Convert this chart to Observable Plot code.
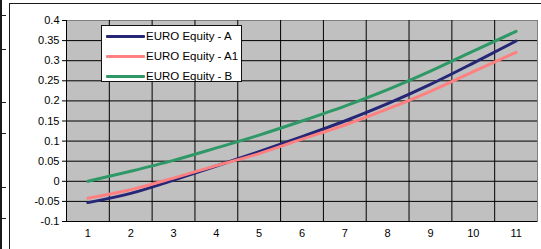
<!DOCTYPE html>
<html>
<head>
<meta charset="utf-8">
<script src="https://cdn.jsdelivr.net/npm/d3@7"></script>
<script src="https://cdn.jsdelivr.net/npm/@observablehq/plot@0.6"></script>
<style>
  html, body { margin: 0; padding: 0; background: #fff; }
  #wrap { position: relative; width: 541px; height: 249px; overflow: hidden; font-family: "Liberation Sans", Arial, sans-serif; }
  #wrap svg { position: absolute; left: 0; top: 0; }
  .deco { position: absolute; background: #1a1a1a; }
  #legend { position: absolute; left: 101px; top: 25px; width: 141px; height: 57px; background: #fff; border: 1px solid #111; box-sizing: border-box; }
  .row { position: absolute; left: 4px; height: 20px; display: flex; align-items: center; font-size: 11.5px; color: #000; white-space: nowrap; }
  .sw { width: 39px; height: 3px; margin-right: 1px; border-radius: 1px; }
</style>
</head>
<body>
<div id="wrap"></div>
<script>
// ---- data ----
const categories = [1, 2, 3, 4, 5, 6, 7, 8, 9, 10, 11];
const seriesA  = [-0.053, -0.030, 0.003, 0.038, 0.074, 0.111, 0.150, 0.193, 0.241, 0.294, 0.349];
const seriesA1 = [-0.042, -0.021, 0.008, 0.039, 0.069, 0.105, 0.140, 0.180, 0.224, 0.273, 0.321];
const seriesB  = [0.000, 0.025, 0.052, 0.083, 0.115, 0.150, 0.187, 0.228, 0.274, 0.324, 0.373];
const seriesNames = ["EURO Equity - A", "EURO Equity - A1", "EURO Equity - B"];
const yTicks = [-0.1, -0.05, 0, 0.05, 0.1, 0.15, 0.2, 0.25, 0.3, 0.35, 0.4];
const yTickLabels = ["-0.1", "-0.05", "0", "0.05", "0.1", "0.15", "0.2", "0.25", "0.3", "0.35", "0.4"];

// ---- styles ----
const seriesColors = ["#262676", "#ff8080", "#2e9966"];

const seriesValues = [seriesA, seriesA1, seriesB];
const rows = [];
seriesNames.forEach((name, s) => {
  categories.forEach((c, i) => rows.push({series: name, x: c, y: seriesValues[s][i]}));
});
const boundaries = categories.slice(0, -1).map(c => c + 0.5);
const innerY = yTicks.slice(1, -1);

const chart = Plot.plot({
  width: 541,
  height: 249,
  marginLeft: 66,
  marginRight: 4,
  marginTop: 20,
  marginBottom: 28,
  style: {background: "transparent", fontFamily: "Liberation Sans, Arial, sans-serif", fontSize: "11px", color: "#000", overflow: "visible"},
  x: {domain: [categories[0] - 0.5, categories[categories.length - 1] + 0.5]},
  y: {domain: [yTicks[0], yTicks[yTicks.length - 1]]},
  color: {domain: seriesNames, range: seriesColors},
  marks: [
    Plot.frame({fill: "#c0c0c0", stroke: "#808080"}),
    Plot.ruleY(innerY, {stroke: "#000", strokeWidth: 1}),
    Plot.ruleX(boundaries, {stroke: "#000", strokeWidth: 1}),
    Plot.line(rows, {x: "x", y: "y", z: "series", stroke: "series", curve: "monotone-x", strokeWidth: 3}),
    Plot.ruleX([categories[0] - 0.5], {stroke: "#000", strokeWidth: 1}),
    Plot.ruleY([yTicks[0]], {stroke: "#000", strokeWidth: 1}),
    Plot.axisY({ticks: yTicks, tickFormat: d => yTickLabels[yTicks.indexOf(d)], tickSize: 4, tickPadding: 3, label: null, stroke: "#000"}),
    Plot.axisX({ticks: categories, tickFormat: d => String(d), tickSize: 0, tickPadding: 8, label: null})
  ]
});

const wrap = document.getElementById("wrap");
// decorative outer frame (cropped chart border and neighbouring edge)
function deco(l, t, w, h) {
  const d = document.createElement("div");
  d.className = "deco";
  d.style.left = l + "px"; d.style.top = t + "px"; d.style.width = w + "px"; d.style.height = h + "px";
  wrap.appendChild(d);
}
deco(9, 3, 532, 1);
deco(9, 3, 1, 246);
deco(0, 0, 2, 249);
[15, 49, 102, 133, 187, 218].forEach(t => deco(2, t, 4, 1));

wrap.appendChild(chart);

// legend
const legend = document.createElement("div");
legend.id = "legend";
seriesNames.forEach((name, i) => {
  const r = document.createElement("div");
  r.className = "row";
  r.style.top = (i * 20) + "px";
  const sw = document.createElement("div");
  sw.className = "sw";
  sw.style.background = seriesColors[i];
  const t = document.createElement("span");
  t.textContent = name;
  r.appendChild(sw); r.appendChild(t);
  legend.appendChild(r);
});
wrap.appendChild(legend);
</script>
</body>
</html>
